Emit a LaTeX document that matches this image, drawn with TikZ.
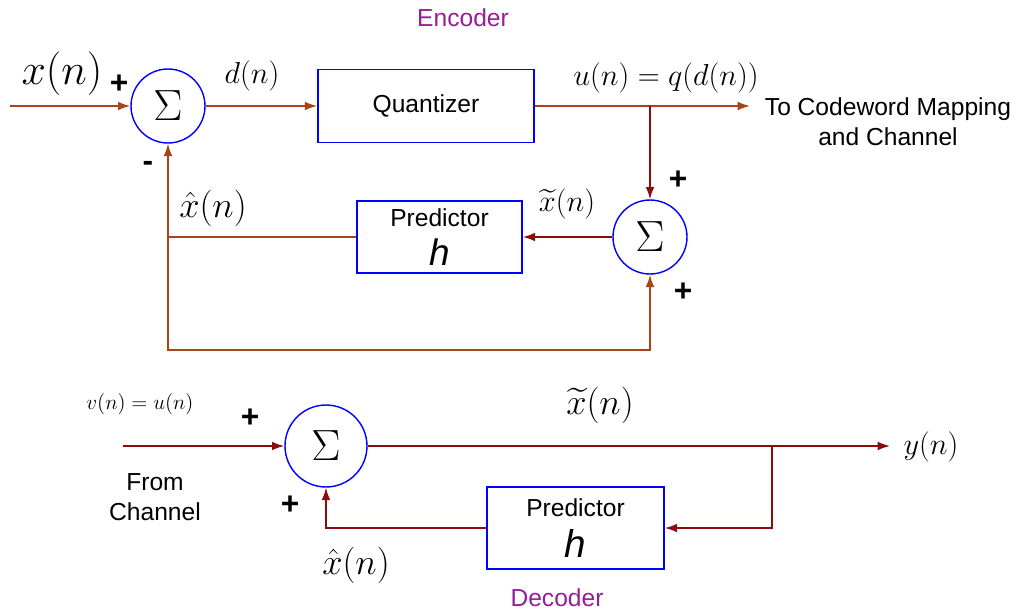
\documentclass[tikz,border=0pt]{standalone}
\usepackage{fontspec}
\setsansfont{Liberation Sans}
\usepackage{amsmath}
\usetikzlibrary{arrows.meta}
\definecolor{wire}{RGB}{168,68,22}
\definecolor{wiredark}{RGB}{140,12,12}
\definecolor{tagpurple}{RGB}{150,30,150}

\begin{document}
\begin{tikzpicture}[x=0.02cm,y=-0.02cm,
  sumnode/.style={circle,draw=blue,line width=0.8pt,minimum size=1.48cm,inner sep=0pt,font=\fontsize{24}{24}\selectfont},
  blockbox/.style={draw=blue,line width=1pt,rectangle,inner sep=0pt,align=center,font=\sffamily\fontsize{14}{17}\selectfont},
  sig/.style={wire,line width=0.9pt},
  sigdark/.style={wiredark,line width=0.9pt},
  arr/.style={-{Latex[length=7pt,width=5pt]}},
  pm/.style={font=\sffamily\bfseries\fontsize{18}{18}\selectfont},
  txt/.style={font=\sffamily\fontsize{14}{17}\selectfont,align=center},
  tag/.style={txt,text=tagpurple}]
  \useasboundingbox (0,0) rectangle (1025,613);

  % Encoder
  \node[tag] (enc) at (463,18) {Encoder};
  \node[sumnode] (sumA) at (168,106) {$\Sigma$};
  \node[blockbox,minimum width=4.32cm,minimum height=1.46cm] (quant) at (426,106) {Quantizer};
  \node[sumnode] (sumB) at (650,237) {$\Sigma$};
  \node[blockbox,minimum width=3.3cm,minimum height=1.44cm] (predA) at (439.5,237)
    {Predictor\\[5pt]{\fontsize{21}{21}\selectfont\itshape h}};

  \coordinate (xin) at (10,106);
  \coordinate (out) at (750,106);
  \coordinate (tapA) at (650,106);
  \coordinate (fbA) at (168,238);
  \coordinate (low) at (400,350);

  \draw[sig,arr] (xin) -- (sumA.west);
  \draw[sig,arr] (sumA.east) -- (quant.west);
  \draw[sig,arr] (quant.east) -- (out);
  \draw[sigdark,arr] (tapA) -- (sumB.north);
  \draw[sigdark,arr] (sumB.west) -- (predA.east);
  \draw[sig,arr] (predA.west) -| (sumA.south);
  \draw[sig,arr] (fbA) |- (low) -| (sumB.south);

  % Encoder labels
  \node (lx) at (62,74) {\fontsize{23}{23}\selectfont$x(n)$};
  \node[pm] (pA1) at (119,84) {+};
  \node[pm] (pA2) at (148,166) {-};
  \node (ld) at (252,76) {\fontsize{16}{16}\selectfont$d(n)$};
  \node (lu) at (666,78) {\fontsize{16}{16}\selectfont$u(n)=q(d(n))$};
  \node[txt] (lout) at (888,122) {To Codeword Mapping\\and Channel};
  \node[pm] (pB1) at (678,180) {+};
  \node[pm] (pB2) at (683,292) {+};
  \node (lxt) at (567,204) {\fontsize{19}{19}\selectfont$\widetilde{x}(n)$};
  \node (lxh) at (213,208) {\fontsize{22}{22}\selectfont$\hat{x}(n)$};

  % Decoder
  \node[sumnode,minimum size=1.64cm] (sumC) at (326,446) {$\Sigma$};
  \node[blockbox,minimum width=3.54cm,minimum height=1.64cm] (predB) at (575.5,528)
    {Predictor\\[6pt]{\fontsize{22}{22}\selectfont\itshape h}};

  \coordinate (vin) at (123,446);
  \coordinate (yout) at (890,446);
  \coordinate (tapB) at (772,446);

  \draw[sigdark,arr] (vin) -- (sumC.west);
  \draw[sigdark,arr] (sumC.east) -- (yout);
  \draw[sigdark,arr] (tapB) |- (predB.east);
  \draw[sigdark,arr] (predB.west) -| (sumC.south);

  % Decoder labels
  \node (lv) at (140,404) {\fontsize{13}{13}\selectfont$v(n)=u(n)$};
  \node[pm] (pC1) at (250,418) {+};
  \node[txt] (lfrom) at (155,497) {From\\Channel};
  \node[pm] (pC2) at (290,505) {+};
  \node (lxh2) at (356,565) {\fontsize{22}{22}\selectfont$\hat{x}(n)$};
  \node (lxt2) at (600,405) {\fontsize{20}{20}\selectfont$\widetilde{x}(n)$};
  \node (ly) at (931,447) {\fontsize{16}{16}\selectfont$y(n)$};
  \node[tag] (dec) at (557,598) {Decoder};
\end{tikzpicture}
\end{document}
